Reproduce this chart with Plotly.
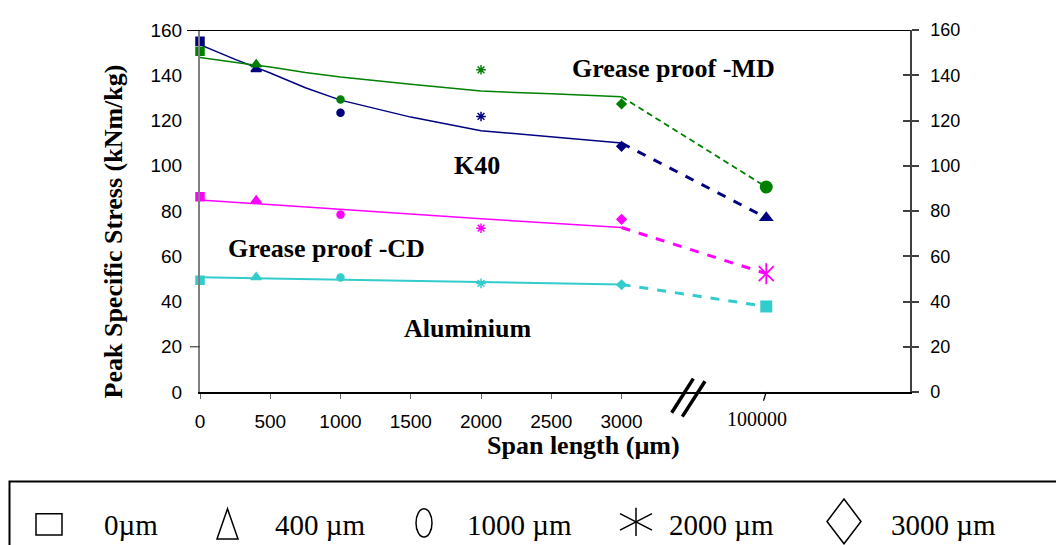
import plotly.graph_objects as go

# ---------------- data ----------------
spans = [0, 400, 1000, 2000, 3000]          # measured span lengths (µm)
far_span = 100000                           # long-span measurement (µm)
span_ticks = [0, 500, 1000, 1500, 2000, 2500, 3000]
y_ticks = [0, 20, 40, 60, 80, 100, 120, 140, 160]

k40_pts = [155.0, 142.7, 123.4, 121.8, 108.6]
k40_far = 77.0
md_pts = [150.6, 144.8, 129.3, 142.4, 127.3]
md_far = 90.6
cd_pts = [86.3, 84.6, 78.4, 72.4, 76.3]
cd_far = 52.3
al_pts = [49.4, 50.7, 50.6, 48.0, 47.4]
al_far = 37.8

# trend lines
trend_spans = [0, 250, 500, 750, 1000, 1500, 2000, 2500, 3000]
k40_trend = [153.5, 147.0, 141.0, 134.5, 129.0, 121.5, 115.5, 112.8, 110.0]
md_trend = [147.8, 145.8, 143.6, 141.2, 139.2, 136.0, 133.0, 131.8, 130.5]
lin_spans = [0, 1000, 2000, 3000]
cd_trend = [84.9, 80.7, 76.6, 72.7]
al_trend = [50.7, 49.6, 48.5, 47.5]

legend_labels = ["0µm", "400 µm", "1000 µm", "2000 µm", "3000 µm"]
annot_labels = ["Grease proof -MD", "K40", "Grease proof -CD", "Aluminium"]

# ---------------- scale / layout helpers ----------------
PAGE_OFF = 8                      # default page body margin
W, H = 1064 - PAGE_OFF, 545 - PAGE_OFF
PLOT_L, PLOT_R, PLOT_T, PLOT_B = 200, 910, 20, 392   # plot area in screen pixels
ML = PLOT_L - PAGE_OFF
MT = PLOT_T - PAGE_OFF
MR = W - (PLOT_R - PAGE_OFF)
MB = H - (PLOT_B - PAGE_OFF)
PW, PH = PLOT_R - PLOT_L, PLOT_B - PLOT_T
X_MAX = 5053
BREAK_POS = 4030     # axis position where the broken-axis 100000 sits


def axis_x(s):
    """Broken x-axis: linear up to 3000, the 100000 value placed after the break."""
    return s if s <= 3000 else BREAK_POS


def px(x):
    return (x - PLOT_L) / PW


def py(y):
    return (PLOT_B - y) / PH


NAVY = "#000080"
GREEN = "#008000"
MAG = "#FF00FF"
CYAN = "#33CCCC"
SERIF = "Liberation Serif, Times New Roman, serif"
SANS = "Liberation Sans, Arial, sans-serif"

symbols = ["square", "triangle-up", "circle", "asterisk-open", "diamond"]
sizes = [8, 9, 7, 8, 7]

fig = go.Figure()

series = [
    (k40_pts, k40_far, k40_trend, trend_spans, NAVY, 1.5, 3, "triangle-up", 13),
    (md_pts, md_far, md_trend, trend_spans, GREEN, 1.5, 1.8, "circle", 13),
    (cd_pts, cd_far, cd_trend, lin_spans, MAG, 1.5, 3, "asterisk6", 15),
    (al_pts, al_far, al_trend, lin_spans, CYAN, 2, 3, "square", 12),
]

for pts, far, trend, tspans, col, lw, dw, far_sym, far_size in series:
    fig.add_trace(go.Scatter(
        x=[axis_x(s) for s in tspans], y=trend, mode="lines",
        line=dict(color=col, width=lw), showlegend=False, hoverinfo="skip"))
    fig.add_trace(go.Scatter(
        x=[axis_x(tspans[-1]), axis_x(far_span)], y=[trend[-1], far], mode="lines",
        line=dict(color=col, width=dw, dash="dash" if dw > 2 else "6px,4px"),
        showlegend=False, hoverinfo="skip"))
    fig.add_trace(go.Scatter(
        x=[axis_x(s) for s in spans], y=pts, mode="markers",
        marker=dict(symbol=symbols, size=sizes, color=col, opacity=1,
                    line=dict(color=col, width=1.5)),
        showlegend=False, cliponaxis=False))
    if far_sym == "asterisk6":
        for sym in ["x-thin-open", "line-ns-open"]:
            fig.add_trace(go.Scatter(
                x=[axis_x(far_span)], y=[far], mode="markers",
                marker=dict(symbol=sym, size=far_size, color=col,
                            line=dict(color=col, width=1.8)),
                showlegend=False, cliponaxis=False))
    else:
        fig.add_trace(go.Scatter(
            x=[axis_x(far_span)], y=[far], mode="markers",
            marker=dict(symbol=far_sym, size=far_size, color=col,
                        line=dict(color=col, width=0)),
            showlegend=False, cliponaxis=False))

# dummy traces to make overlaid right axes render
fig.add_trace(go.Scatter(x=[None], y=[None], yaxis="y2", showlegend=False))
fig.add_trace(go.Scatter(x=[None], y=[None], yaxis="y3", showlegend=False))

fig.update_layout(
    width=W, height=H,
    margin=dict(l=ML, r=MR, t=MT, b=MB),
    paper_bgcolor="white", plot_bgcolor="white",
    showlegend=False,
    font=dict(family=SANS, size=19, color="black"),
    xaxis=dict(range=[0, X_MAX], tickvals=span_ticks, ticktext=[str(v) for v in span_ticks],
               showgrid=False, zeroline=False, showline=True, linecolor="black", linewidth=1.5,
               ticks="outside", ticklen=5, tickcolor="#666666", tickwidth=1,
               tickfont=dict(family=SANS, size=19), ticklabelstandoff=6),
    yaxis=dict(range=[0, 160], tickvals=y_ticks, showgrid=False, zeroline=False,
               showline=True, linecolor="#808080", linewidth=2, ticks="",
               tickfont=dict(family=SANS, size=19), ticklabelstandoff=12),
    yaxis2=dict(range=[0, 160], tickvals=y_ticks, overlaying="y", side="right", anchor="x",
                showgrid=False, zeroline=False, showline=True, linecolor="#404040", linewidth=1.5,
                ticks="outside", ticklen=7, tickcolor="#404040", tickwidth=1.5,
                tickfont=dict(family=SANS, size=18), ticklabelstandoff=8),
    yaxis3=dict(range=[0, 160], tickvals=y_ticks, overlaying="y", side="right", anchor="x",
                showgrid=False, zeroline=False, showline=False, showticklabels=False,
                ticks="inside", ticklen=7, tickcolor="#404040", tickwidth=1.5),
)

shapes = []
# top border and left tick marks
shapes.append(dict(type="line", xref="paper", yref="y", x0=px(187), x1=px(910), y0=160, y1=160,
                   line=dict(color="black", width=2)))
shapes.append(dict(type="line", xref="paper", yref="y", x0=px(190), x1=px(200), y0=20, y1=20,
                   line=dict(color="#404040", width=1.2)))
# break marks on the x axis
shapes.append(dict(type="line", xref="paper", yref="paper", x0=px(671.7), y0=py(413.3),
                   x1=px(693.3), y1=py(378.3), line=dict(color="black", width=3.5)))
shapes.append(dict(type="line", xref="paper", yref="paper", x0=px(682.3), y0=py(417.3),
                   x1=px(705), y1=py(381), line=dict(color="black", width=3.5)))
# slanted tick at 100000
shapes.append(dict(type="line", xref="x", yref="paper", x0=axis_x(far_span), y0=0,
                   x1=axis_x(far_span) - 20, y1=py(401), line=dict(color="black", width=1.2)))

# legend box and symbols
blk = dict(color="black", width=1.5)
shapes.append(dict(type="rect", xref="paper", yref="paper", x0=px(9.5), x1=px(1075), y0=py(484), y1=py(560),
                   line=dict(color="black", width=2)))
shapes.append(dict(type="rect", xref="paper", yref="paper", x0=px(36), x1=px(62), y0=py(517), y1=py(539),
                   line=blk))


def path(points):
    return "M " + " L ".join(f"{px(a):.5f},{py(b):.5f}" for a, b in points) + " Z"


shapes.append(dict(type="path", xref="paper", yref="paper",
                   path=path([(217, 543), (227.5, 512), (238, 543)]), line=blk))
shapes.append(dict(type="circle", xref="paper", yref="paper", x0=px(416), x1=px(432), y0=py(512), y1=py(541),
                   line=blk))
for (a, b, c, d) in [(636, 511, 636, 540), (620, 517, 652, 534), (620, 534, 652, 517)]:
    shapes.append(dict(type="line", xref="paper", yref="paper", x0=px(a), y0=py(b), x1=px(c), y1=py(d),
                       line=blk))
shapes.append(dict(type="path", xref="paper", yref="paper",
                   path=path([(844, 502), (861, 525), (844, 548), (827, 525)]), line=blk))
fig.update_layout(shapes=shapes)

annotations = []
legend_x = [102, 273, 465, 667, 889]
for lab, xx in zip(legend_labels, legend_x):
    annotations.append(dict(text=lab, xref="paper", yref="paper", x=px(xx), y=py(529),
                            xanchor="left", yanchor="middle", showarrow=False,
                            font=dict(family=SERIF, size=29, color="black")))

annot_pos = [(673, 60), (477, 159), (326, 245), (467, 327)]
for lab, (xx, yy) in zip(annot_labels, annot_pos):
    annotations.append(dict(text=f"<b>{lab}</b>", xref="paper", yref="paper", x=px(xx), y=py(yy),
                            xanchor="center", yanchor="middle", showarrow=False,
                            font=dict(family=SERIF, size=26, color="black")))

annotations.append(dict(text="<b>Span length (µm)</b>", xref="paper", yref="paper", x=px(583), y=py(447),
                        xanchor="center", yanchor="middle", showarrow=False,
                        font=dict(family=SERIF, size=26, color="black")))
annotations.append(dict(text="<b>Peak Specific Stress (kNm/kg)</b>", xref="paper", yref="paper",
                        x=px(113), y=py(227), textangle=-90,
                        xanchor="center", yanchor="middle", showarrow=False,
                        font=dict(family=SERIF, size=26, color="black")))
annotations.append(dict(text=str(far_span), xref="paper", yref="paper", x=px(757), y=py(420),
                        xanchor="center", yanchor="middle", showarrow=False,
                        font=dict(family=SERIF, size=20, color="black")))
fig.update_layout(annotations=annotations)

fig.write_html("out.html")
